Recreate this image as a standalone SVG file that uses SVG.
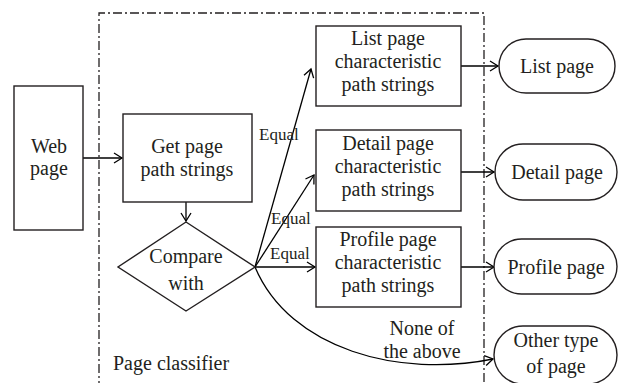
<svg xmlns="http://www.w3.org/2000/svg" width="620" height="383" viewBox="0 0 620 383">
  <style>
    .box { fill: #fff; stroke: #231f20; stroke-width: 1.4; }
    .line { fill: none; stroke: #000; stroke-width: 1.3; }
    .frame { fill: none; stroke: #231f20; stroke-width: 1.3; stroke-dasharray: 9 3 2 3; }
    text { font-family: "Liberation Serif", "Times New Roman", serif; font-size: 20px; fill: #231f20; text-anchor: middle; }
    .small { font-size: 17px; text-anchor: start; }
  </style>
  <defs>
    <marker id="arrow" markerWidth="12" markerHeight="12" refX="10" refY="6" orient="auto" markerUnits="userSpaceOnUse">
      <path d="M2,1 L10,6 L2,11" fill="none" stroke="#000" stroke-width="1.3"/>
    </marker>
  </defs>

  <rect width="620" height="383" fill="#fff"/>

  <!-- page classifier boundary -->
  <g id="classifier">
    <path class="frame" d="M99,390 L99,13 L484,13 L484,390"/>
    <text x="113" y="370" style="text-anchor:start">Page classifier</text>
  </g>

  <g id="connectors">
    <line class="line" x1="83" y1="158" x2="122" y2="158" marker-end="url(#arrow)"/>
    <line class="line" x1="186" y1="202" x2="186" y2="221" marker-end="url(#arrow)"/>
    <line class="line" x1="255" y1="267" x2="311" y2="69" marker-end="url(#arrow)"/>
    <line class="line" x1="255" y1="267" x2="314" y2="175" marker-end="url(#arrow)"/>
    <line class="line" x1="255" y1="267" x2="315" y2="267" marker-end="url(#arrow)"/>
    <path class="line" d="M255,267 C290,350 400,378 493,359" marker-end="url(#arrow)"/>
    <line class="line" x1="461" y1="66" x2="498" y2="66" marker-end="url(#arrow)"/>
    <line class="line" x1="461" y1="172" x2="494" y2="172" marker-end="url(#arrow)"/>
    <line class="line" x1="461" y1="267" x2="494" y2="267" marker-end="url(#arrow)"/>
    <text class="small" x="259" y="140">Equal</text>
    <text class="small" x="271" y="224">Equal</text>
    <text class="small" x="270" y="259">Equal</text>
    <text x="422" y="335">None of</text>
    <text x="422" y="358">the above</text>
  </g>

  <g id="web-page">
    <rect class="box" x="14" y="86" width="69" height="144"/>
    <text x="49" y="153">Web</text>
    <text x="49" y="175">page</text>
  </g>

  <g id="get-paths">
    <rect class="box" x="123" y="114" width="129" height="88"/>
    <text x="187" y="153">Get page</text>
    <text x="187" y="176">path strings</text>
  </g>

  <g id="compare">
    <polygon class="box" points="186,222 255,267 186,311 118,267"/>
    <text x="186" y="263">Compare</text>
    <text x="186" y="290">with</text>
  </g>

  <g id="list-strings">
    <rect class="box" x="316" y="26" width="145" height="80"/>
    <text x="388" y="45">List page</text>
    <text x="388" y="68">characteristic</text>
    <text x="388" y="91">path strings</text>
  </g>

  <g id="detail-strings">
    <rect class="box" x="316" y="130" width="145" height="81"/>
    <text x="388" y="150">Detail page</text>
    <text x="388" y="173">characteristic</text>
    <text x="388" y="196">path strings</text>
  </g>

  <g id="profile-strings">
    <rect class="box" x="316" y="227" width="145" height="80"/>
    <text x="388" y="246">Profile page</text>
    <text x="388" y="269">characteristic</text>
    <text x="388" y="292">path strings</text>
  </g>

  <g id="list-page">
    <rect class="box" x="499" y="39" width="116" height="54" rx="27" ry="27"/>
    <text x="557" y="73">List page</text>
  </g>

  <g id="detail-page">
    <rect class="box" x="495" y="144" width="122" height="56" rx="28" ry="28"/>
    <text x="557" y="179">Detail page</text>
  </g>

  <g id="profile-page">
    <rect class="box" x="494" y="239" width="123" height="55" rx="27.5" ry="27.5"/>
    <text x="556" y="274">Profile page</text>
  </g>

  <g id="other-page">
    <rect class="box" x="494" y="326" width="123" height="58" rx="29" ry="29"/>
    <text x="556" y="347">Other type</text>
    <text x="556" y="373">of page</text>
  </g>
</svg>
